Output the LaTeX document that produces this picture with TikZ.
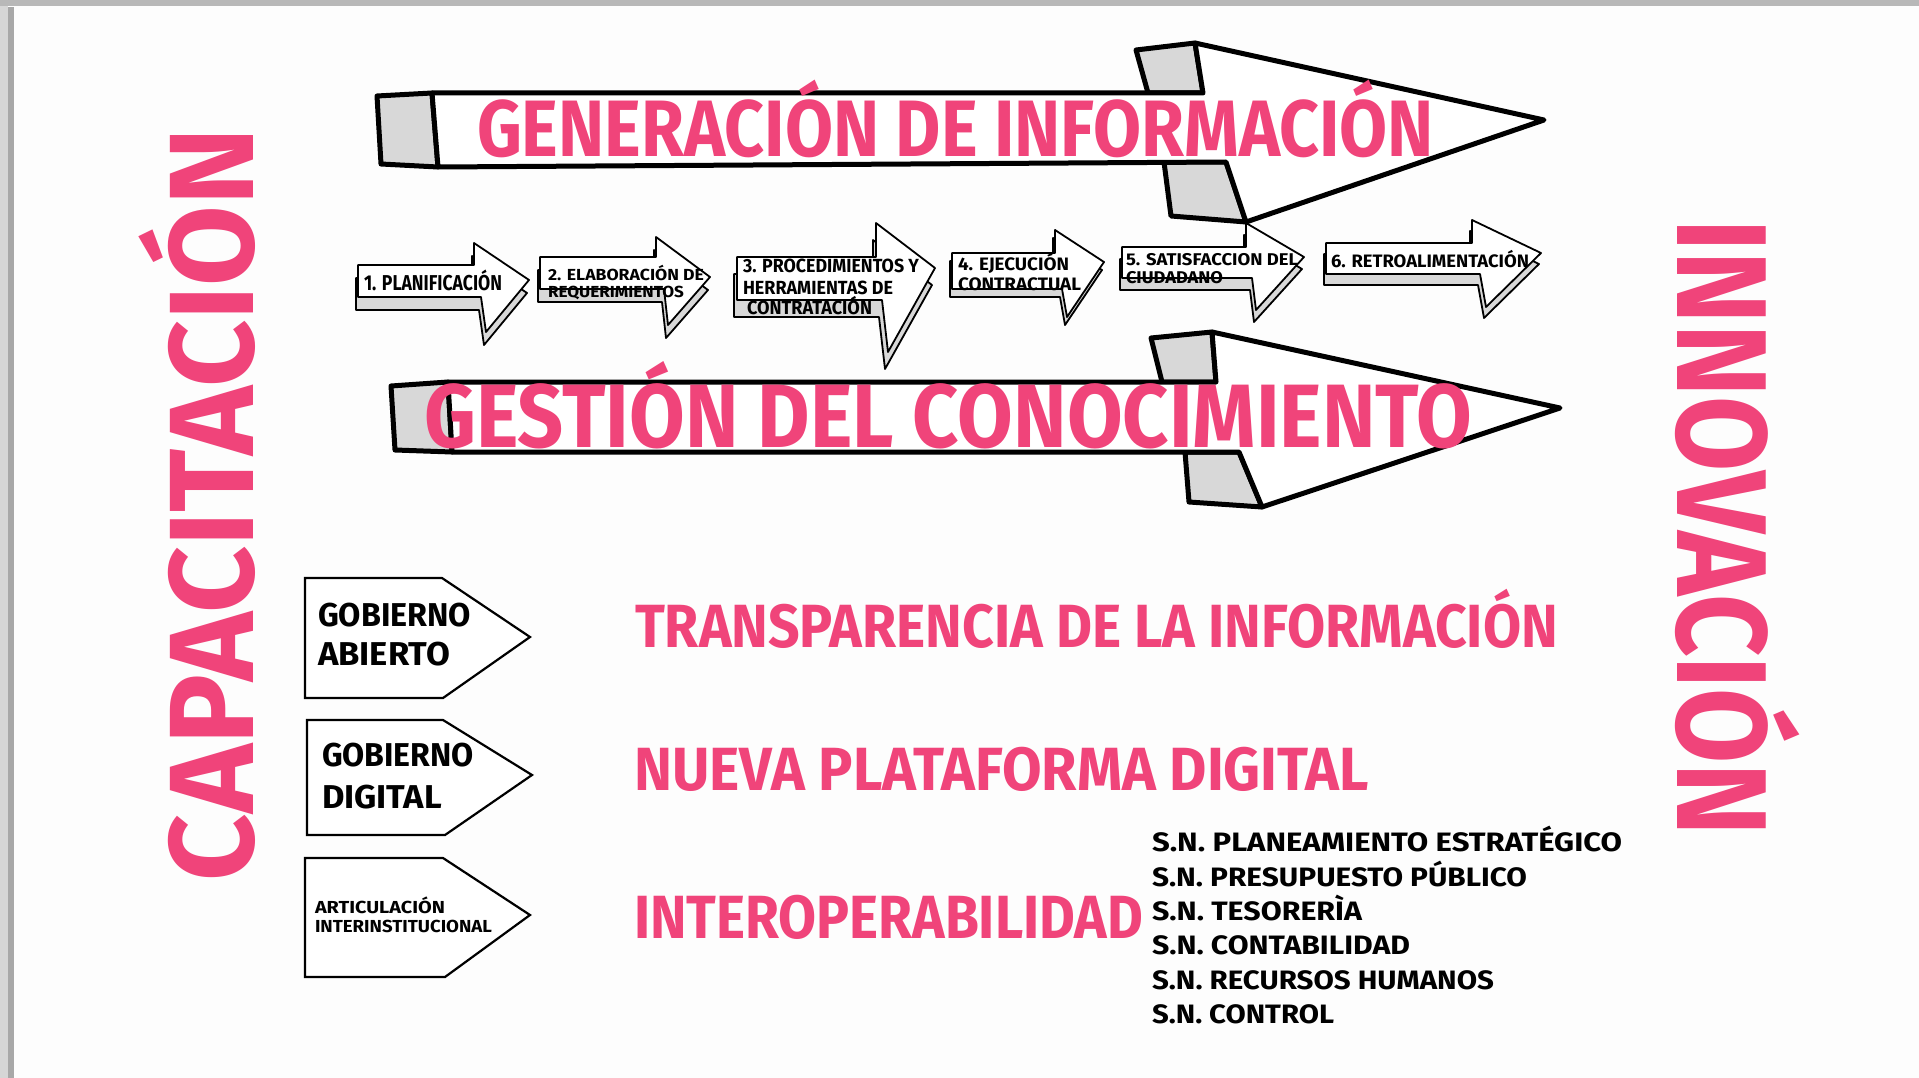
\documentclass[tikz,border=0pt]{standalone}
\usepackage{fontspec}
\setmainfont{Fira Sans}
\usepackage{graphicx}
\definecolor{pk}{RGB}{240,68,122}
\definecolor{fc}{RGB}{216,216,216}
\definecolor{bgc}{RGB}{253,253,253}
\newcommand{\tx}[3]{{\fontsize{#1}{#1}\selectfont\resizebox{#2}{\height}{#3}}}
\def\pA{(358,265) -- (474,265) -- (474,243) -- (529,280) -- (486,332) -- (481,297) -- (358,297) -- cycle}
\def\pB{(540,257) -- (656,257) -- (656,237) -- (710,277) -- (668,325) -- (664,289) -- (540,289) -- cycle}
\def\pC{(737,257) -- (876,257) -- (876,223) -- (935,268) -- (888,352) -- (882,300) -- (737,300) -- cycle}
\def\pD{(952,253) -- (1055,253) -- (1055,230) -- (1104,262) -- (1067,317) -- (1062,289) -- (952,289) -- cycle}
\def\pE{(1122,247) -- (1246,247) -- (1246,223) -- (1304,257) -- (1256,310) -- (1252,278) -- (1122,278) -- cycle}
\def\pF{(1326,243) -- (1472,243) -- (1472,220) -- (1541,253) -- (1486,307) -- (1480,274) -- (1326,274) -- cycle}
\begin{document}
\begin{tikzpicture}[x=1pt,y=-1pt,
  big/.style={draw=black, line width=5pt, line join=round, fill=white},
  bigface/.style={draw=black, line width=5pt, line join=round, fill=fc},
  sm/.style={draw=black, line width=1.8pt, line join=round, fill=white},
  smface/.style={draw=black, line width=1.8pt, line join=round, fill=fc},
  lbl/.style={inner sep=0pt, outer sep=0pt, anchor=base west},
  pinktxt/.style={lbl, text=pk, font=\bfseries},
  blktxt/.style={lbl, text=black, font=\bfseries},
  tag/.style={draw=black, line width=2.2pt, line join=miter, fill=white}]

\useasboundingbox (0,0) rectangle (1919,1078);
\fill[bgc] (0,0) rectangle (1919,1078);
\fill[black!16] (0,0) rectangle (8,1078);
\fill[black!34] (8,7) rectangle (14,1078);
\fill[black!28] (0,0) rectangle (1919,6);

% big arrow 1
\path[bigface] (377,96) -- (432,93) -- (438,167) -- (381,164) -- cycle;
\path[bigface] (1136,50) -- (1195,43) -- (1203,93) -- (1148,93) -- cycle;
\path[bigface] (1164,162) -- (1226,162) -- (1246,222) -- (1171,216) -- cycle;
\path[big] (432,93) -- (1203,93) -- (1195,43) -- (1544,120) -- (1246,222) -- (1226,162) -- (438,167) -- cycle;
\node[pinktxt] (t1) at (477,157) {\tx{80}{957pt}{GENERACIÓN DE INFORMACIÓN}};

% big arrow 2
\path[bigface] (391,386) -- (448,382) -- (452,452) -- (395,450) -- cycle;
\path[bigface] (1151,338) -- (1212,332) -- (1216,382) -- (1162,382) -- cycle;
\path[bigface] (1185,452) -- (1239,452) -- (1262,507) -- (1189,502) -- cycle;
\path[big] (448,382) -- (1216,382) -- (1212,332) -- (1560,408) -- (1262,507) -- (1239,452) -- (452,452) -- cycle;
\node[pinktxt] (t2) at (424,447) {\tx{90}{1048pt}{GESTIÓN DEL CONOCIMIENTO}};

% small arrows
\path[smface, shift={(-2,13)}] \pA;
\path[sm] \pA;
\path[smface, shift={(-2,13)}] \pB;
\path[sm] \pB;
\path[smface, shift={(-3,17)}] \pC;
\path[sm] \pC;
\path[smface, shift={(-2,8)}] \pD;
\path[sm] \pD;
\path[smface, shift={(-2,12)}] \pE;
\path[sm] \pE;
\path[smface, shift={(-2,11)}] \pF;
\path[sm] \pF;

\node[blktxt] (s1) at (364,290) {\tx{21.5}{138pt}{1. PLANIFICACIÓN}};
\node[blktxt] (s2a) at (548,280) {\tx{16}{156pt}{2. ELABORACIÓN DE}};
\node[blktxt] (s2b) at (548,297) {\tx{16}{136pt}{REQUERIMIENTOS}};
\node[blktxt] (s3a) at (743,272) {\tx{19}{176pt}{3. PROCEDIMIENTOS Y}};
\node[blktxt] (s3b) at (743,294) {\tx{19}{150pt}{HERRAMIENTAS DE}};
\node[blktxt] (s3c) at (747,314) {\tx{19}{125pt}{CONTRATACIÓN}};
\node[blktxt] (s4a) at (958,270) {\tx{18}{111pt}{4. EJECUCIÓN}};
\node[blktxt] (s4b) at (958,290) {\tx{18}{123pt}{CONTRACTUAL}};
\node[blktxt] (s5a) at (1126,265) {\tx{17}{172pt}{5. SATISFACCION DEL}};
\node[blktxt] (s5b) at (1126,283) {\tx{17}{97pt}{CIUDADANO}};
\node[blktxt] (s6) at (1331,267) {\tx{18}{198pt}{6. RETROALIMENTACIÓN}};

% side words
\node[pinktxt, rotate=90] (cap) at (253,881) {\tx{120}{753pt}{CAPACITACIÓN}};
\node[pinktxt, rotate=-90] (inn) at (1677,220) {\tx{128}{616pt}{INNOVACIÓN}};

% tags
\path[tag] (305,578) -- (442,578) -- (530,637) -- (443,698) -- (305,698) -- cycle;
\path[tag] (307,720) -- (443,720) -- (532,775) -- (445,835) -- (307,835) -- cycle;
\path[tag] (305,858) -- (443,858) -- (530,915) -- (445,977) -- (305,977) -- cycle;
\node[blktxt] (g1a) at (318,626) {\tx{33}{153pt}{GOBIERNO}};
\node[blktxt] (g1b) at (318,665) {\tx{33}{132pt}{ABIERTO}};
\node[blktxt] (g2a) at (322,766) {\tx{33}{152pt}{GOBIERNO}};
\node[blktxt] (g2b) at (322,808) {\tx{33}{120pt}{DIGITAL}};
\node[blktxt] (g3a) at (315,913) {\tx{17.4}{130pt}{ARTICULACIÓN}};
\node[blktxt] (g3b) at (315,932) {\tx{17.4}{177pt}{INTERINSTITUCIONAL}};

% middle pink
\node[pinktxt] (m1) at (635,647) {\tx{61}{923pt}{TRANSPARENCIA DE LA INFORMACIÓN}};
\node[pinktxt] (m2) at (634,790) {\tx{61}{735pt}{NUEVA PLATAFORMA DIGITAL}};
\node[pinktxt] (m3) at (634,938) {\tx{61}{509pt}{INTEROPERABILIDAD}};

% S.N. list
\node[blktxt] (n1) at (1152,851) {\tx{26.6}{470pt}{S.N. PLANEAMIENTO ESTRATÉGICO}};
\node[blktxt] (n2) at (1152,886) {\tx{26.6}{375pt}{S.N. PRESUPUESTO PÚBLICO}};
\node[blktxt] (n3) at (1152,920) {\tx{26.6}{210pt}{S.N. TESORERÌA}};
\node[blktxt] (n4) at (1152,954) {\tx{26.6}{258pt}{S.N. CONTABILIDAD}};
\node[blktxt] (n5) at (1152,989) {\tx{26.6}{342pt}{S.N. RECURSOS HUMANOS}};
\node[blktxt] (n6) at (1152,1023) {\tx{26.6}{182pt}{S.N. CONTROL}};
\end{tikzpicture}
\end{document}
